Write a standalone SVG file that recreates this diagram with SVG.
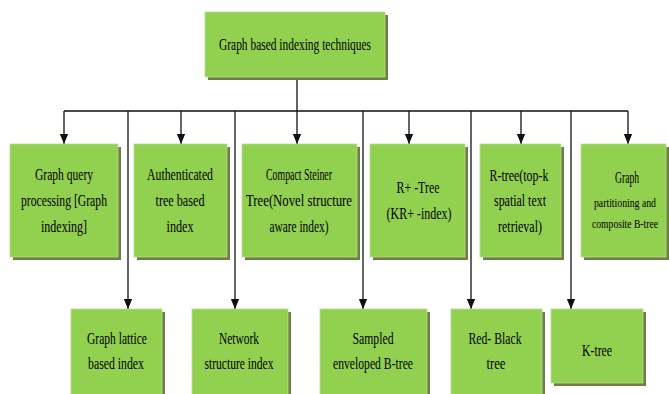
<svg xmlns="http://www.w3.org/2000/svg" width="669" height="394" viewBox="0 0 669 394">
<style>
.box{fill:#92d050;stroke:#b8dc8e;stroke-width:0.8}
.sh{fill:#6e7f45}
.t{font-family:"Liberation Serif","Times New Roman",serif;font-size:16px;fill:#000;text-anchor:middle}
.s{font-size:13px}
.c{stroke:#111;stroke-width:1.3;fill:none}
</style>
<defs>
<marker id="ah" markerUnits="userSpaceOnUse" markerWidth="10" markerHeight="12" refX="12" refY="5" orient="auto" viewBox="0 0 12 10">
<path d="M0,0 L12,5 L0,10 z" fill="#111"/>
</marker>
</defs>
<rect width="669" height="394" fill="#fff"/>
<g id="connectors">
<path class="c" d="M297,80 V111 M64,111 H628"/>
<path class="c" d="M64,111 V144" marker-end="url(#ah)"/>
<path class="c" d="M181,111 V144" marker-end="url(#ah)"/>
<path class="c" d="M297,111 V144" marker-end="url(#ah)"/>
<path class="c" d="M409,111 V144" marker-end="url(#ah)"/>
<path class="c" d="M521,111 V144" marker-end="url(#ah)"/>
<path class="c" d="M628,111 V144" marker-end="url(#ah)"/>
<path class="c" d="M128,111 V309" marker-end="url(#ah)"/>
<path class="c" d="M235,111 V309" marker-end="url(#ah)"/>
<path class="c" d="M363,111 V309" marker-end="url(#ah)"/>
<path class="c" d="M471,111 V309" marker-end="url(#ah)"/>
<path class="c" d="M571,111 V309" marker-end="url(#ah)"/>
</g>
<g id="root">
<rect class="sh" x="208" y="15" width="180" height="65"/>
<rect class="box" x="205" y="12" width="180" height="65"/>
<text class="t" x="295" y="50" textLength="152" lengthAdjust="spacingAndGlyphs">Graph based indexing techniques</text>
</g>
<g id="n1">
<rect class="sh" x="13" y="147" width="108" height="113"/>
<rect class="box" x="10" y="144" width="108" height="113"/>
<text class="t" x="64" y="180" textLength="58" lengthAdjust="spacingAndGlyphs">Graph query</text>
<text class="t" x="64" y="206" textLength="86" lengthAdjust="spacingAndGlyphs">processing [Graph</text>
<text class="t" x="64" y="232" textLength="46" lengthAdjust="spacingAndGlyphs">indexing]</text>
</g>
<g id="n2">
<rect class="sh" x="137" y="147" width="93" height="113"/>
<rect class="box" x="134" y="144" width="93" height="113"/>
<text class="t" x="180" y="180" textLength="66" lengthAdjust="spacingAndGlyphs">Authenticated</text>
<text class="t" x="180" y="206" textLength="49" lengthAdjust="spacingAndGlyphs">tree based</text>
<text class="t" x="180" y="232" textLength="27" lengthAdjust="spacingAndGlyphs">index</text>
</g>
<g id="n3">
<rect class="sh" x="245" y="147" width="115" height="113"/>
<rect class="box" x="242" y="144" width="115" height="113"/>
<text class="t" x="299" y="180" textLength="66" lengthAdjust="spacingAndGlyphs">Compact Steiner</text>
<text class="t" x="299" y="206" textLength="106" lengthAdjust="spacingAndGlyphs">Tree(Novel structure</text>
<text class="t" x="299" y="232" textLength="59" lengthAdjust="spacingAndGlyphs">aware index)</text>
</g>
<g id="n4">
<rect class="sh" x="373" y="147" width="95" height="113"/>
<rect class="box" x="370" y="144" width="95" height="113"/>
<text class="t" x="418" y="193" textLength="43" lengthAdjust="spacingAndGlyphs">R+ -Tree</text>
<text class="t" x="419" y="219" textLength="65" lengthAdjust="spacingAndGlyphs">(KR+ -index)</text>
</g>
<g id="n5">
<rect class="sh" x="483" y="147" width="81" height="113"/>
<rect class="box" x="480" y="144" width="81" height="113"/>
<text class="t" x="519" y="181" textLength="59" lengthAdjust="spacingAndGlyphs">R-tree(top-k</text>
<text class="t" x="520" y="206" textLength="52" lengthAdjust="spacingAndGlyphs">spatial text</text>
<text class="t" x="520" y="232" textLength="44" lengthAdjust="spacingAndGlyphs">retrieval)</text>
</g>
<g id="n6">
<rect class="sh" x="584" y="147" width="85" height="113"/>
<rect class="box" x="581" y="144" width="85" height="113"/>
<text class="t" x="627" y="183" textLength="24" lengthAdjust="spacingAndGlyphs">Graph</text>
<text class="t s" x="625" y="207" textLength="62" lengthAdjust="spacingAndGlyphs">partitioning and</text>
<text class="t s" x="625" y="228" textLength="66" lengthAdjust="spacingAndGlyphs">composite B-tree</text>
</g>
<g id="n7">
<rect class="sh" x="74" y="312" width="91" height="90"/>
<rect class="box" x="71" y="309" width="91" height="90"/>
<text class="t" x="117" y="344" textLength="60" lengthAdjust="spacingAndGlyphs">Graph lattice</text>
<text class="t" x="116" y="369" textLength="56" lengthAdjust="spacingAndGlyphs">based index</text>
</g>
<g id="n8">
<rect class="sh" x="195" y="312" width="96" height="90"/>
<rect class="box" x="192" y="309" width="96" height="90"/>
<text class="t" x="239" y="344" textLength="40" lengthAdjust="spacingAndGlyphs">Network</text>
<text class="t" x="239" y="369" textLength="69" lengthAdjust="spacingAndGlyphs">structure index</text>
</g>
<g id="n9">
<rect class="sh" x="323" y="312" width="107" height="90"/>
<rect class="box" x="320" y="309" width="107" height="90"/>
<text class="t" x="373" y="344" textLength="41" lengthAdjust="spacingAndGlyphs">Sampled</text>
<text class="t" x="373" y="369" textLength="80" lengthAdjust="spacingAndGlyphs">enveloped B-tree</text>
</g>
<g id="n10">
<rect class="sh" x="454" y="312" width="91" height="90"/>
<rect class="box" x="451" y="309" width="91" height="90"/>
<text class="t" x="495" y="344" textLength="53" lengthAdjust="spacingAndGlyphs">Red- Black</text>
<text class="t" x="496" y="369" textLength="19" lengthAdjust="spacingAndGlyphs">tree</text>
</g>
<g id="n11">
<rect class="sh" x="554" y="312" width="92" height="74"/>
<rect class="box" x="551" y="309" width="92" height="74"/>
<text class="t" x="597" y="356" textLength="30" lengthAdjust="spacingAndGlyphs">K-tree</text>
</g>
</svg>
